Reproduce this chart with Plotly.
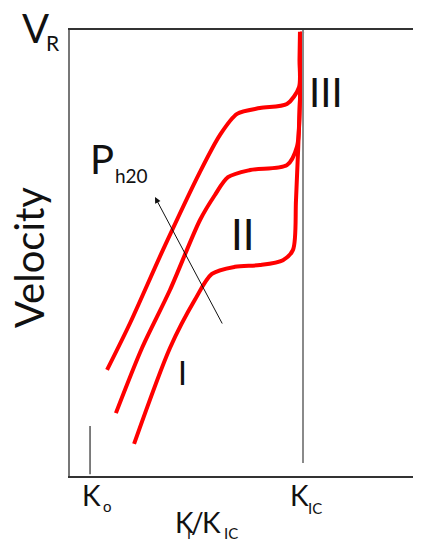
import plotly.graph_objects as go

# K_I/K_IC (x) and normalised velocity (y)
x_low = [0.275, 0.429, 0.536, 0.609, 0.708, 0.815, 0.914, 0.957, 0.970, 0.987, 0.996]
y_low = [0.072, 0.287, 0.395, 0.453, 0.469, 0.473, 0.484, 0.507, 0.619, 0.843, 0.996]

x_mid = [0.197, 0.309, 0.429, 0.558, 0.622, 0.678, 0.773, 0.931, 0.974, 0.987, 0.996]
y_mid = [0.141, 0.287, 0.417, 0.574, 0.630, 0.670, 0.686, 0.697, 0.738, 0.843, 0.996]

x_high = [0.159, 0.258, 0.399, 0.558, 0.644, 0.717, 0.815, 0.931, 0.983, 0.985, 0.987]
y_high = [0.238, 0.343, 0.507, 0.682, 0.765, 0.812, 0.825, 0.834, 0.872, 0.933, 0.996]

K_IC = 1.0
K_0 = 0.086

FONT = "Lato"
OFF = 8  # page body margin
W, H = 421 - OFF, 540 - OFF
L, R, T, B = 70 - OFF, 0, 30 - OFF, 64

fig = go.Figure()
for xs, ys in [(x_low, y_low), (x_mid, y_mid), (x_high, y_high)]:
    fig.add_trace(go.Scatter(x=xs, y=ys, mode="lines",
                             line=dict(color="#ff0000", width=4, shape="spline", smoothing=0.8),
                             showlegend=False, hoverinfo="skip"))

# K_IC vertical line and K_0 tick
fig.add_shape(type="line", x0=K_IC, x1=K_IC, y0=0.029, y1=1, xref="x", yref="y",
              line=dict(color="#8a8a8a", width=2))
fig.add_shape(type="line", x0=K_0, x1=K_0, y0=0.004, y1=0.112, xref="x", yref="y",
              line=dict(color="#555", width=1.5))

pw, ph = W - L - R, H - T - B
def px(x, y):
    x -= OFF
    y -= OFF
    return (x - L) / pw, (H - B - y) / ph

def txt(s, x, y, size, angle=0, color="#111"):
    xp, yp = px(x, y)
    fig.add_annotation(text=s, x=xp, y=yp, xref="paper", yref="paper",
                       showarrow=False, xanchor="center", yanchor="middle",
                       textangle=angle, font=dict(family=FONT, size=size, color=color))

txt("V", 35, 28, 40)
txt("R", 53, 43, 21)
txt("Velocity", 29, 258, 40, angle=-90)
txt("P", 102, 159, 40)
txt("h20", 131, 175, 19)
txt("I", 182, 372, 32)
txt("II", 243, 234, 42)
txt("III", 326, 92, 40)
txt("K", 91, 495, 28)
txt("o", 107, 506, 15)
txt("K", 299, 495, 28)
txt("IC", 315, 508, 15)
txt("K", 184, 522, 28)
txt("I", 189, 533, 14)
txt("/", 197, 522, 28)
txt("K", 211, 522, 28)
txt("IC", 231, 533, 15)

# P_h2o arrow
hx, hy = px(155, 197)
fig.add_annotation(x=hx, y=hy, ax=223 - 155, ay=325 - 197, xref="paper", yref="paper",
                   axref="pixel", ayref="pixel", showarrow=True, text="",
                   arrowhead=2, arrowsize=1.2, arrowwidth=1, arrowcolor="#111")

fig.update_layout(
    width=W, height=H, margin=dict(l=L, r=R, t=T, b=B),
    paper_bgcolor="white", plot_bgcolor="white",
    xaxis=dict(range=[0, pw / 233], showline=True, mirror=True, linecolor="#333", linewidth=2,
               showgrid=False, zeroline=False, showticklabels=False, ticks=""),
    yaxis=dict(range=[0, 1], showline=True, mirror=False, linecolor="#777", linewidth=2,
               showgrid=False, zeroline=False, showticklabels=False, ticks=""),
)
fig.write_html("out.html")
